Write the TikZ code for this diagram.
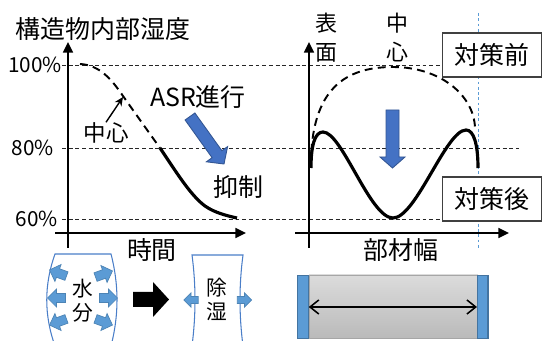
\documentclass[tikz,border=0pt]{standalone}
\usepackage{fontspec}
\newfontfamily\jpfont{Noto Sans CJK JP}
\usetikzlibrary{arrows.meta}

\definecolor{asrblue}{HTML}{4472C4}
\definecolor{waterblue}{HTML}{5B9BD5}
\definecolor{wallblue}{HTML}{4A7EC8}

\begin{document}
\begin{tikzpicture}[x=0.02cm, y=-0.02cm,
    txt/.style={font=\jpfont\fontsize{14.2}{17}\selectfont, inner sep=0pt},
    midtxt/.style={font=\jpfont\fontsize{12.8}{15}\selectfont, inner sep=0pt},
    vtxt/.style={font=\jpfont\fontsize{12.5}{16.4}\selectfont, inner sep=0pt, align=center},
    boxtxt/.style={font=\jpfont\fontsize{11.8}{13.6}\selectfont, inner sep=0pt, align=center},
    pct/.style={font=\jpfont\fontsize{11.8}{15}\selectfont, inner sep=0pt, anchor=east},
    axis/.style={line width=1.4pt, -{Triangle[length=6pt,width=5.5pt]}},
    level/.style={dash pattern=on 2.2pt off 1.6pt, line width=0.5pt, black!85},
    curve/.style={line width=1.8pt},
    dashcurve/.style={line width=1.1pt, dash pattern=on 4.5pt off 3pt},
    bluearrow/.style={fill=asrblue, draw=asrblue!75!black, line width=0.5pt},
    tag/.style={txt, draw=black!75, fill=white, line width=0.6pt, minimum width=1.98cm, minimum height=0.88cm},
    wall/.style={draw=wallblue, line width=0.6pt},
    plate/.style={draw=waterblue!75!black, fill=waterblue, line width=0.6pt, minimum width=0.21cm, minimum height=1.26cm, inner sep=0pt},
    sidearrow/.pic={\filldraw[fill=waterblue, draw=waterblue!85!black, line width=0.4pt] (-9,-4.5) -- (0,-4.5) -- (0,-9) -- (9,0) -- (0,9) -- (0,4.5) -- (-9,4.5) -- cycle;}
]
\useasboundingbox (0,0) rectangle (542,341);

% title
\node[txt] (title) at (103,29) {構造物内部湿度};

% humidity levels
\draw[level] (62,65) -- (442,65);
\draw[level] (62,148) -- (519,148);
\draw[level] (62,219) -- (442,219);
\node[pct] (p100) at (62,65) {100\%};
\node[pct] (p80) at (54,148) {80\%};
\node[pct] (p60) at (58,219) {60\%};

% time axes
\draw[axis] (68,248) -- (68,42);
\draw[axis] (55,233) -- (246,233);
\node[txt] (time) at (152,250) {時間};

% core humidity over time
\draw[dashcurve] (80,64) .. controls (100,65) and (112,80) .. (123,96) .. controls (135,113) and (150,134) .. (160,148);
\draw[curve] (160,148) .. controls (175,170) and (190,195) .. (205,206) .. controls (215,213) and (228,216) .. (237,218);

\coordinate (onpath) at (123,97);
\node[midtxt] (core) at (106,133) {中心};
\draw[-{Stealth[length=5pt,width=4.5pt]}, line width=0.8pt] (core.north) -- (onpath);

\node[txt] (asr) at (198,97) {ASR進行};
\filldraw[bluearrow] (194.9,113.0) -- (221.9,150.7) -- (227.6,146.6) -- (224,164) -- (206.4,161.8) -- (212.1,157.7) -- (185.1,120.0) -- cycle;
\node[txt] (supp) at (238,187) {抑制};

% width axes
\draw[axis] (309,248) -- (309,42);
\draw[axis] (295,233) -- (509,233);
\node[txt] (width) at (401,250) {部材幅};
\node[vtxt] (surf) at (326,37.5) {表\\面};
\node[vtxt] (mid) at (397,37.5) {中\\心};

% member edge
\draw[waterblue, line width=0.5pt, dash pattern=on 1.6pt off 1.4pt] (478,13) -- (478,250);

% profiles across the member
\draw[dashcurve] (311,165) .. controls (311,88) and (346,67) .. (393,67) .. controls (440,67) and (474,95) .. (475,128);
\draw[curve] (311,168) .. controls (311,145) and (315,132) .. (323,132) .. controls (342,132) and (370,218) .. (393,218) .. controls (416,218) and (446,130) .. (466,130) .. controls (474,130) and (478,145) .. (478,168);
\filldraw[bluearrow] (386,110) -- (399,110) -- (399,157) -- (405,157) -- (392.5,168) -- (380,157) -- (386,157) -- cycle;

\node[tag, anchor=west] (before) at (442,55) {対策前};
\node[tag, anchor=west] (after) at (442,199) {対策後};

% wet member
\draw[wall] (55,346) .. controls (44,315) and (44,285) .. (55,254) -- (111,254) .. controls (119,285) and (119,315) .. (111,346);
\node[boxtxt] (water) at (83,301) {水\\分};
\foreach \x/\y/\a in {56.5/298/180, 58/273/160, 58/322/200, 108.5/298/0, 104/274/20, 104/322/-20}
    \pic[rotate=\a] at (\x,\y) {sidearrow};

\fill (133,292) -- (153,292) -- (153,282) -- (169,299.5) -- (153,317) -- (153,307) -- (133,307) -- cycle;

% dried member
\draw[wall] (192,346) .. controls (196,315) and (196,285) .. (192,255) -- (243,255) .. controls (239,285) and (239,315) .. (243,346);
\node[boxtxt] (dry) at (217,299) {除\\湿};
\pic[rotate=180, scale=0.8] at (191,300) {sidearrow};
\pic[scale=0.8] at (244.5,300) {sidearrow};

% member section
\shade[top color=black!14, bottom color=black!27] (309,275) rectangle (478,338);
\draw[black!35, line width=0.5pt] (309,275) rectangle (478,338);
\node[plate] (lplate) at (303,307) {};
\node[plate] (rplate) at (482.75,307) {};
\draw[{Straight Barb[length=5pt,width=8pt]}-{Straight Barb[length=5pt,width=8pt]}, line width=0.9pt] (lplate.east) -- (rplate.west);

\end{tikzpicture}
\end{document}
